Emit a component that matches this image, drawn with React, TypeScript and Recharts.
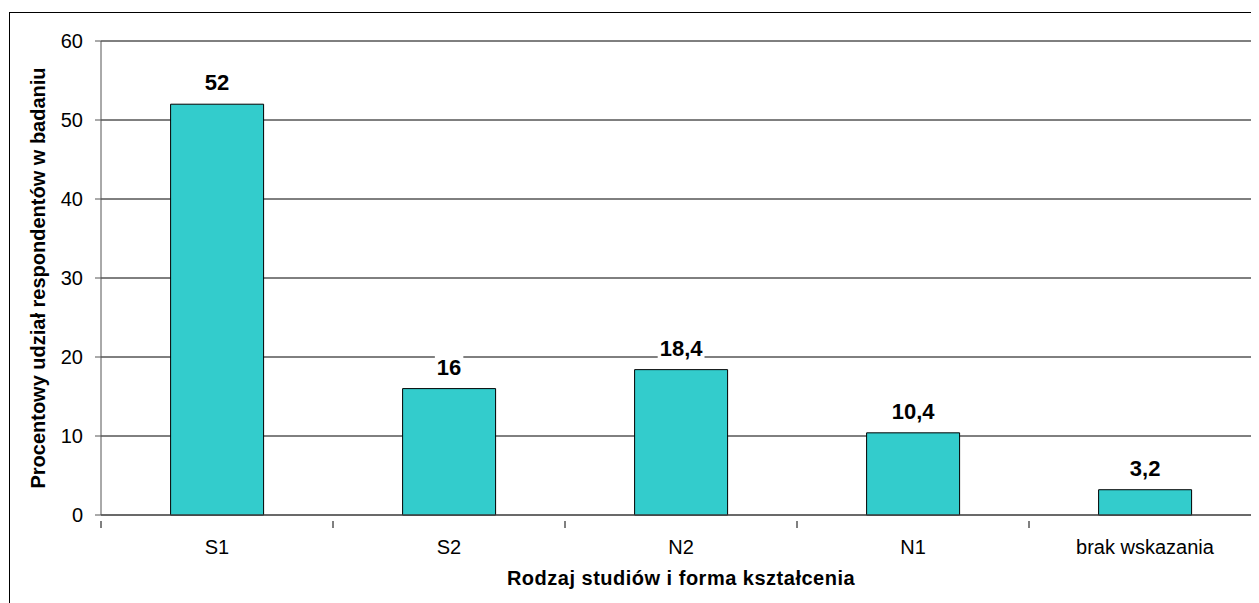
import React from "react";
import {
  BarChart,
  Bar,
  XAxis,
  YAxis,
  CartesianGrid,
  LabelList,
  Label,
} from "recharts";

const categories = ["S1", "S2", "N2", "N1", "brak wskazania"];
const shares = [52, 16, 18.4, 10.4, 3.2];
const yTicks = [0, 10, 20, 30, 40, 50, 60];

const data = categories.map((name, i) => ({ name, value: shares[i] }));

const FONT = "'Liberation Sans', Arial, sans-serif";
const fmt = (v: number) => String(v).replace(".", ",");

function CategoryTick(props: any) {
  const { x, y, payload, index, width } = props;
  const band = width / categories.length;
  const isLast = index === categories.length - 1;
  return (
    <g>
      <line x1={x - band / 2} x2={x - band / 2} y1={y - 2} y2={y + 5} stroke="#000" />
      {isLast && (
        <line x1={x + band / 2} x2={x + band / 2} y1={y - 2} y2={y + 5} stroke="#000" />
      )}
      <text
        x={x}
        y={y + 31}
        textAnchor="middle"
        fontSize={20}
        fontFamily={FONT}
        fill="#000"
      >
        {payload.value}
      </text>
    </g>
  );
}

function ValueLabel(props: any) {
  const { x, y, width, value } = props;
  const txt = fmt(value);
  const fs = 22;
  const w = txt.split("").reduce((s, c) => s + (c === "," ? 0.278 : 0.556), 0) * fs + 4;
  const cx = x + width / 2;
  const cy = y - 22;
  return (
    <g>
      <rect x={cx - w / 2} y={cy - 11} width={w} height={22} fill="#fff" />
      <text
        x={cx}
        y={cy + 8}
        textAnchor="middle"
        fontSize={fs}
        fontWeight="bold"
        fontFamily={FONT}
        fill="#000"
      >
        {txt}
      </text>
    </g>
  );
}

export default function App() {
  return (
    <div
      style={{
        position: "relative",
        width: 1251,
        height: 595,
        overflow: "hidden",
        background: "#fff",
      }}
    >
      <div
        style={{
          position: "absolute",
          left: 1,
          top: 4,
          width: 1300,
          height: 700,
          border: "1px solid #000",
        }}
      />
      <div style={{ position: "absolute", left: 0, top: 0 }}>
        <BarChart
          width={1300}
          height={595}
          data={data}
          margin={{ top: 33, right: 47, bottom: 0, left: 0 }}
          barCategoryGap="30%"
        >
          <CartesianGrid vertical={false} stroke="#000" />
          <XAxis
            dataKey="name"
            height={88}
            axisLine={{ stroke: "#555" }}
            tickLine={false}
            tick={<CategoryTick />}
            interval={0}
          >
            <Label
              value="Rodzaj studiów i forma kształcenia"
              position="center"
              dy={19}
              fontSize={20}
              fontWeight="bold"
              fontFamily={FONT}
              fill="#000"
              letterSpacing={0.5}
            />
          </XAxis>
          <YAxis
            width={93}
            domain={[0, 60]}
            ticks={yTicks}
            interval={0}
            axisLine={{ stroke: "#555" }}
            tickLine={{ stroke: "#555" }}
            tickSize={6}
            tickMargin={12}
            tick={{ fontSize: 20, fontFamily: FONT, fill: "#000" }}
          >
            <Label
              value="Procentowy udział respondentów w badaniu"
              angle={-90}
              position="center"
              dx={-17}
              fontSize={20}
              fontWeight="bold"
              fontFamily={FONT}
              fill="#000"
            />
          </YAxis>
          <Bar
            dataKey="value"
            fill="#33CCCC"
            stroke="#000"
            strokeWidth={1}
            isAnimationActive={false}
          >
            <LabelList dataKey="value" content={<ValueLabel />} />
          </Bar>
        </BarChart>
      </div>
    </div>
  );
}
